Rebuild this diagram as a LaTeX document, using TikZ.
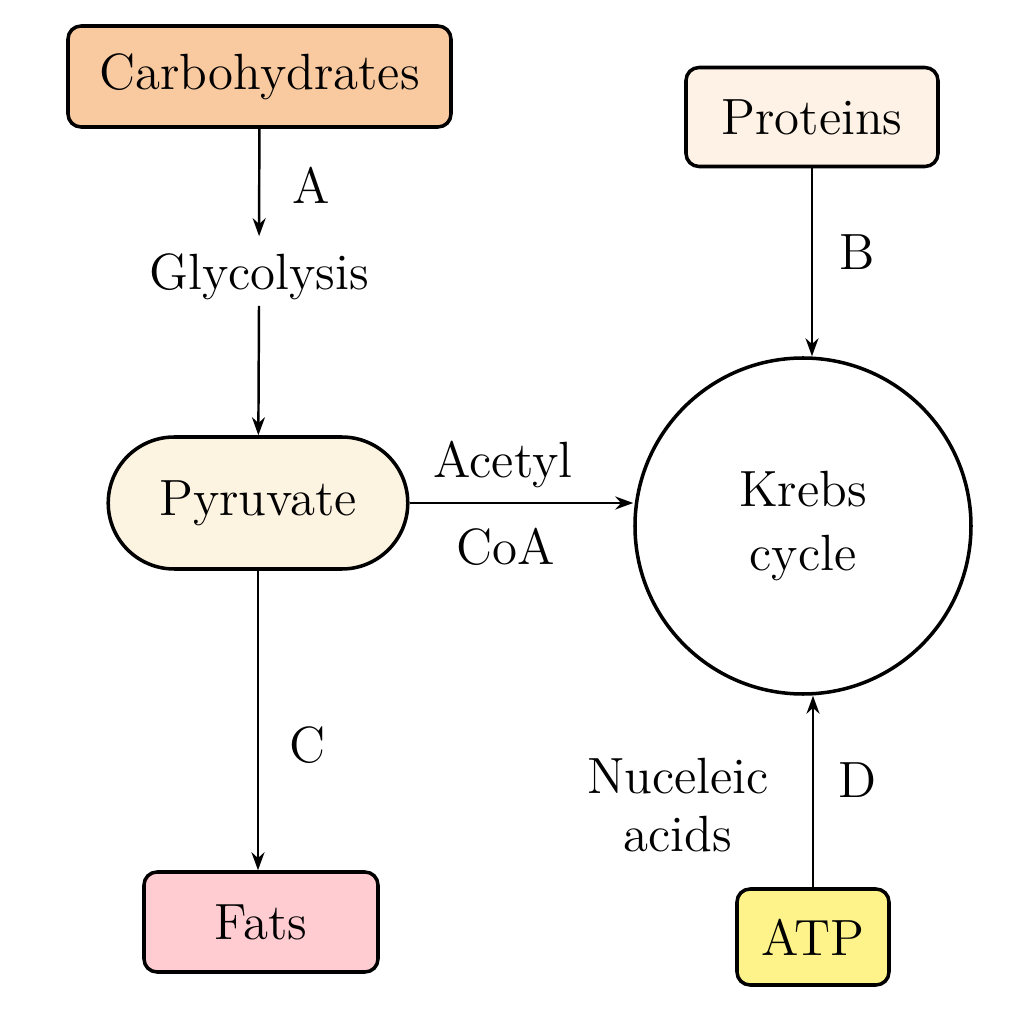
\documentclass[tikz,border=0pt]{standalone}
\usepackage{xcolor}
\usepackage{tikz}
\usetikzlibrary{arrows.meta, positioning, shapes.misc}

\definecolor{carbfill}{HTML}{F9C9A0}
\definecolor{protfill}{HTML}{FDF2E5}
\definecolor{pyrufill}{HTML}{FDF3E1}
\definecolor{fatfill}{HTML}{FFCCD2}
\definecolor{atpfill}{HTML}{FDF38A}

\begin{document}
\begin{tikzpicture}[
    every node/.style={font=\fontsize{14.5}{17}\selectfont},
    box/.style={draw, line width=1pt, rounded corners=1.3mm, inner sep=0pt},
    arr/.style={-{Stealth[length=1.8mm,width=1.3mm]}, line width=0.7pt},
  ]
  \useasboundingbox (0,0) rectangle (10.24,10.24);

  % Ausgangsstoffe
  \node[box, fill=carbfill, minimum width=3.83cm, minimum height=1.01cm] (carb) at (2.595,9.475) {Carbohydrates};
  \node[box, fill=protfill, minimum width=2.52cm, minimum height=0.99cm] (prot) at (8.12,9.07) {Proteins};
  \node[inner xsep=1pt, inner ysep=0.17cm] (glyc) at (2.59,7.47) {Glycolysis};

  % Zwischenprodukt und Zyklus
  \node[draw, line width=1pt, rounded rectangle, fill=pyrufill, minimum height=1.32cm, inner xsep=0.47cm] (pyru) at (2.58,5.21) {Pyruvate};
  \node[draw, line width=1pt, circle, minimum size=3.36cm, align=center, font=\fontsize{14.5}{18}\selectfont] (krebs) at (8.03,4.98) {Krebs\\cycle};

  % Endprodukte
  \node[box, fill=fatfill, minimum width=2.34cm, minimum height=1.0cm] (fats) at (2.61,1.02) {Fats};
  \node[box, fill=atpfill, minimum width=1.52cm, minimum height=0.96cm] (atp) at (8.13,0.87) {ATP};

  % Pfeile
  \draw[arr] (carb) -- (glyc);
  \draw[arr] ([yshift=1.2mm]glyc.south) -- (pyru);
  \draw[arr] (pyru.east) -- (pyru.east -| krebs.west);
  \draw[arr] (prot.south) -- (prot.south |- krebs.north);
  \draw[arr] (pyru.south) -- (pyru.south |- fats.north);
  \draw[arr] (atp.north) -- (atp.north |- krebs.south);

  % Beschriftungen
  \node (la) at (3.11,8.39) {A};
  \node (lb) at (8.57,7.72) {B};
  \node (lc) at (3.08,2.79) {C};
  \node (ld) at (8.58,2.44) {D};
  \node (acetyl) at (5.03,5.59) {Acetyl};
  \node (coa) at (5.06,4.77) {CoA};
  \node[align=center, font=\fontsize{14.5}{16.5}\selectfont] (nucl) at (6.78,2.19) {Nuceleic\\acids};
\end{tikzpicture}
\end{document}
